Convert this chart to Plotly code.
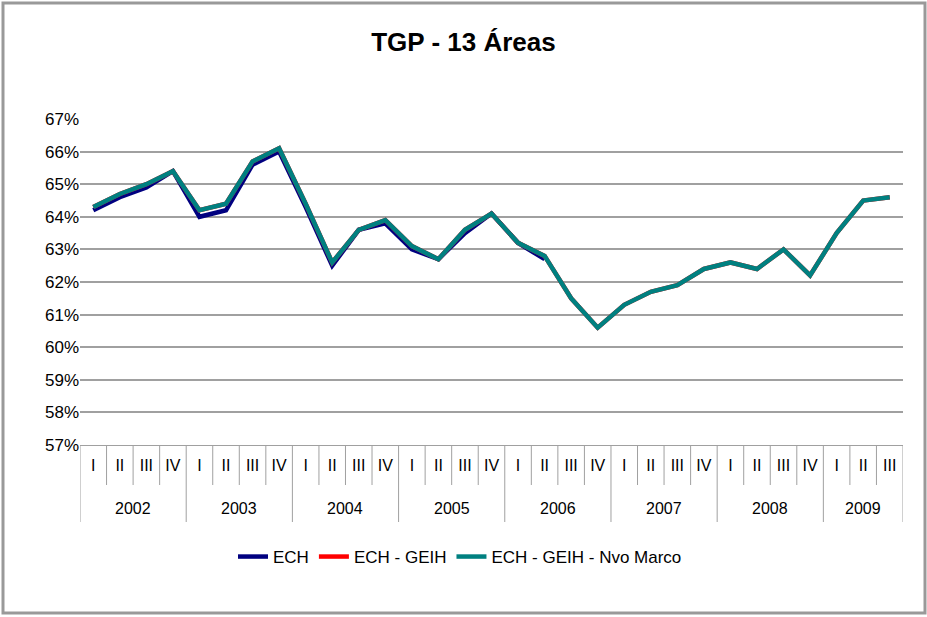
import plotly.graph_objects as go

# --- Données (TGP trimestrielle, %) ---
anos = ["2002", "2003", "2004", "2005", "2006", "2007", "2008", "2009"]
trimestres = ["I", "II", "III", "IV"] * 7 + ["I", "II", "III"]

ech = [64.2, 64.6, 64.9, 65.4, 64.0, 64.2, 65.6, 66.0, 64.3, 62.5, 63.6, 63.8,
       63.0, 62.7, 63.5, 64.1, 63.2, 62.7]
ech_geih = [64.3, 64.7, 65.0, 65.4, 64.2, 64.4, 65.7, 66.1, 64.4, 62.6, 63.6, 63.9,
            63.1, 62.7, 63.6, 64.1, 63.2, 62.8, 61.5, 60.6, 61.3, 61.7, 61.9, 62.4,
            62.6, 62.4, 63.0, 62.2, 63.5, 64.5, 64.6]
ech_geih_nvo = [64.3, 64.7, 65.0, 65.4, 64.2, 64.4, 65.7, 66.1, 64.4, 62.6, 63.6, 63.9,
                63.1, 62.7, 63.6, 64.1, 63.2, 62.8, 61.5, 60.6, 61.3, 61.7, 61.9, 62.4,
                62.6, 62.4, 63.0, 62.2, 63.5, 64.5, 64.6]

W, H = 927, 617
ML, MR, MT, MB = 80, 24, 119, 172
PW, PH = W - ML - MR, H - MT - MB
FONT = "Liberation Sans, Arial, sans-serif"
GRIS = "#A0A0A0"

n = len(trimestres)
xs = list(range(n))

fig = go.Figure()
fig.add_trace(go.Scatter(x=xs[:len(ech)], y=ech, mode="lines", name="ECH",
                         line=dict(color="#000080", width=4.5)))
fig.add_trace(go.Scatter(x=xs, y=ech_geih, mode="lines", name="ECH - GEIH",
                         line=dict(color="#FF0000", width=4.5)))
fig.add_trace(go.Scatter(x=xs, y=ech_geih_nvo, mode="lines", name="ECH - GEIH - Nvo Marco",
                         line=dict(color="#008080", width=4.5)))

# --- Tableau des catégories (trimestres / années) ---
shapes = []
q_len = 40 / PH
y_len = 77 / PH
for b in range(n + 1):
    full = (b % 4 == 0) or b == n
    shapes.append(dict(type="line", xref="x", yref="paper", x0=b - 0.5, x1=b - 0.5,
                       y0=0, y1=-(y_len if full else q_len),
                       line=dict(color=GRIS, width=1)))

annotations = []
for i, a in enumerate(anos):
    debut = i * 4
    fin = min(debut + 4, n)
    annotations.append(dict(x=(debut + fin - 1) / 2, y=-(63 / PH), xref="x", yref="paper",
                            text=a, showarrow=False, yanchor="middle",
                            font=dict(family=FONT, size=16, color="#000")))

# cadre extérieur
shapes.append(dict(type="rect", xref="paper", yref="paper",
                   x0=(3 - ML) / PW, x1=(925 - ML) / PW,
                   y0=(MT + PH - 613) / PH, y1=(MT + PH - 3) / PH,
                   line=dict(color="#999999", width=3)))

fig.update_layout(
    width=W, height=H,
    margin=dict(l=ML, r=MR, t=MT, b=MB),
    paper_bgcolor="white", plot_bgcolor="white",
    font=dict(family=FONT, color="#000"),
    title=dict(text="<b>TGP - 13 Áreas</b>", x=0.5, xref="container", xanchor="center",
               y=1 - 42 / H, yanchor="middle", font=dict(family=FONT, size=26, color="#000")),
    showlegend=True,
    legend=dict(orientation="h", x=(460 - ML) / PW, xanchor="center",
                y=-(112 / PH), yanchor="middle", font=dict(family=FONT, size=17),
                bgcolor="rgba(0,0,0,0)"),
    shapes=shapes,
    annotations=annotations,
)
fig.update_xaxes(range=[-0.5, n - 0.5], tickvals=xs, ticktext=trimestres,
                 showgrid=False, zeroline=False, showline=True, linecolor=GRIS, linewidth=1,
                 ticks="", ticklabelstandoff=6, tickfont=dict(family=FONT, size=16, color="#000"))
fig.update_yaxes(range=[57, 67], dtick=1, ticksuffix="%", showgrid=True, gridcolor=GRIS,
                 gridwidth=1.5, zeroline=False, showline=False, ticks="",
                 tickfont=dict(family=FONT, size=17, color="#000"))

# marge du body à zéro pour que la figure occupe toute la fenêtre
fig.write_html("out.html", config={"displayModeBar": False},
               post_script="document.body.style.margin='0';")
